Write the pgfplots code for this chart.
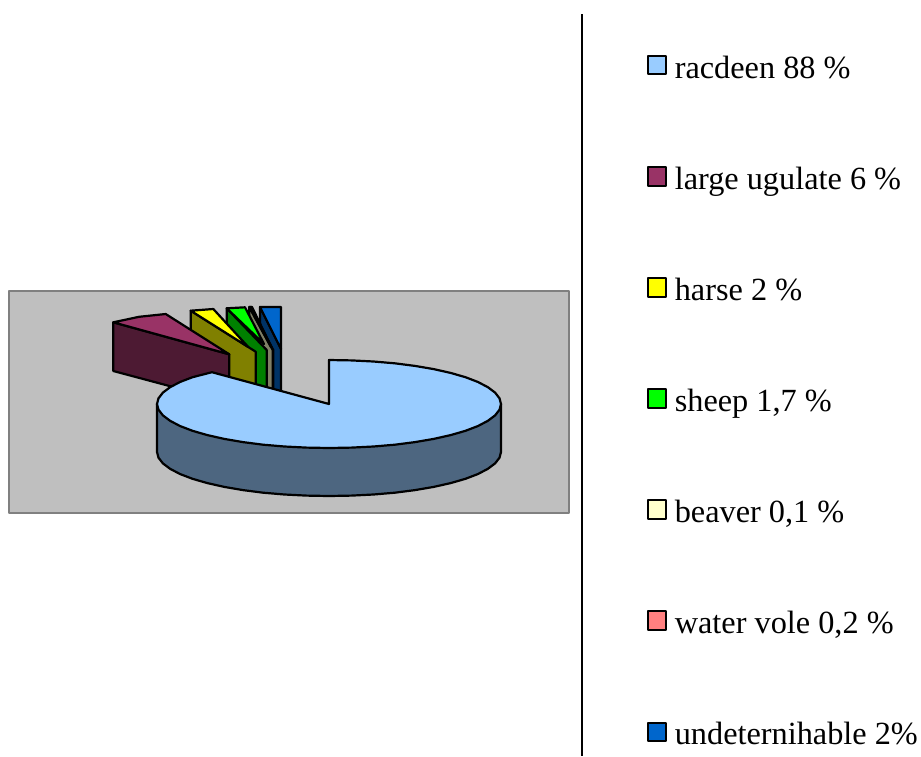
\documentclass[border=0pt]{standalone}
\usepackage{fontspec}
\setmainfont{Liberation Serif}
\usepackage{pgfplots}
\pgfplotsset{compat=1.18}
\definecolor{cA}{HTML}{99CCFF}\definecolor{cAw}{HTML}{4D6680}
\definecolor{cB}{HTML}{993366}\definecolor{cBw}{HTML}{4D1A33}
\definecolor{cC}{HTML}{FFFF00}\definecolor{cCw}{HTML}{808000}
\definecolor{cD}{HTML}{00FF00}\definecolor{cDw}{HTML}{008000}
\definecolor{cE}{HTML}{FFFFCC}\definecolor{cEw}{HTML}{808066}
\definecolor{cF}{HTML}{FF8080}\definecolor{cFw}{HTML}{804040}
\definecolor{cG}{HTML}{0066CC}\definecolor{cGw}{HTML}{003366}
\newcommand{\rowstrut}{\rule[-14pt]{0pt}{38pt}\hspace*{7.6pt}}
\begin{document}
\begin{tikzpicture}
\begin{axis}[
  scale only axis, width=921pt, height=756pt,
  xmin=0, xmax=921, ymin=0, ymax=756, y dir=reverse,
  axis lines=none, clip=true,
  every axis plot/.append style={line width=2.2pt, line join=round},
  reverse legend,
  legend cell align=left,
  legend image code/.code={\path[draw=none,fill=none] (0pt,-19pt) rectangle (20.5pt,19pt);
    \draw[#1,line width=2pt] (1pt,-7.4pt) rectangle (19.5pt,11.1pt);},
  legend style={at={(axis cs:646.7,48)}, anchor=north west, draw=none, fill=none,
    inner sep=0pt, outer sep=0pt, row sep=73.1pt, column sep=0pt,
    nodes={inner sep=0pt, outer sep=0pt, font=\fontsize{32.3}{38.8}\selectfont},
  },
]
% page and plot-area backdrops
\addplot[forget plot, draw=none, fill=white] coordinates {(0,0)(921,0)(921,756)(0,756)} -- cycle;
\addplot[forget plot, draw=black!50, fill=black!25] coordinates {(9,291)(569,291)(569,513)(9,513)} -- cycle;
\addplot[forget plot, black, line width=2pt] coordinates {(581.5,14)(581.5,756)};

% undeternihable
\addplot[forget plot, draw=black, fill=cGw] coordinates {(260,307)(281,349)(281,400)(260,392)} -- cycle;
\addplot[draw=black, fill=cG] coordinates {(260,307)(281,307)(281,349)} -- cycle;
\addlegendentry{\rowstrut undeternihable 2\%}
% water vole
\addplot[forget plot, draw=black, fill=cFw] coordinates {(250,307)(273.3,350)(273.3,398)(250,390)} -- cycle;
\addplot[draw=black, fill=cF] coordinates {(250,307)(252,307)(272,348)} -- cycle;
\addlegendentry{\rowstrut water vole 0,2 \%}
% beaver
\addplot[forget plot, draw=black, fill=cEw] coordinates {(249.3,307)(272.7,350)(272.7,398)(249.3,390)} -- cycle;
\addplot[draw=black, fill=cE] coordinates {(249.3,307)(251.5,307)(271,347)} -- cycle;
\addlegendentry{\rowstrut beaver 0,1 \%}
% sheep
\addplot[forget plot, draw=black, fill=cDw] coordinates {(226.7,308.3)(266.7,350)(266.7,396)(226.7,385)} -- cycle;
\addplot[draw=black, fill=cD] coordinates {(226.7,308.3)(245,307.3)(264,344)} -- cycle;
\addlegendentry{\rowstrut sheep 1,7 \%}
% horse
\addplot[forget plot, draw=black, fill=cCw] coordinates {(190.7,310.7)(255.7,351.7)(255.7,394)(190.7,376)} -- cycle;
\addplot[draw=black, fill=cC] coordinates {(190.7,310.7)(213.3,309)(248.3,347)} -- cycle;
\addlegendentry{\rowstrut harse 2 \%}
% large ungulate
\addplot[forget plot, draw=black, fill=cBw] coordinates {(113.3,322.3)(229.3,354.3)(229.3,402)(113.3,371)} -- cycle;
\addplot[draw=black, fill=cB] coordinates {(113.3,322.3)(139,316.8)(165.7,314)(229.3,354.3)} -- cycle;
\addlegendentry{\rowstrut large ugulate 6 \%}
% racdeen: front wall
\addplot[forget plot, draw=black, fill=cAw] coordinates {
 (501,404)(501,452)(499.5,457.7)(495.1,463.4)(487.9,468.8)(478,474)(465.5,478.8)(450.6,483.1)
 (433.7,486.9)(415,490.1)(394.8,492.7)(373.5,494.5)(351.4,495.6)(329,496)
 (306.6,495.6)(284.5,494.5)(263.2,492.7)(243,490.1)(224.3,486.9)(207.4,483.1)(192.5,478.8)
 (180,474)(170.1,468.8)(162.9,463.4)(158.5,457.7)(157,452)(157,404)} -- cycle;
% racdeen: top
\addplot[draw=black, fill=cA] coordinates {
 (329,404)(329,360)(351.4,360.4)(373.5,361.5)(394.8,363.3)(415,365.9)(433.7,369.1)(450.6,372.9)
 (465.5,377.2)(478,382)(487.9,387.2)(495.1,392.6)(499.5,398.3)(501,404)
 (499.5,409.7)(495.1,415.4)(487.9,420.8)(478,426)(465.5,430.8)(450.6,435.1)(433.7,438.9)
 (415,442.1)(394.8,444.7)(373.5,446.5)(351.4,447.6)(329,448)
 (306.6,447.6)(284.5,446.5)(263.2,444.7)(243,442.1)(224.3,438.9)(207.4,435.1)(192.5,430.8)
 (180,426)(170.1,420.8)(162.9,415.4)(158.5,409.7)(157,404)
 (158.5,398.3)(162.9,392.6)(170.1,387.2)(180,382)(192.5,377.2)(212,372.2)} -- cycle;
\addlegendentry{\rowstrut racdeen 88 \%}
\end{axis}
\end{tikzpicture}
\end{document}
